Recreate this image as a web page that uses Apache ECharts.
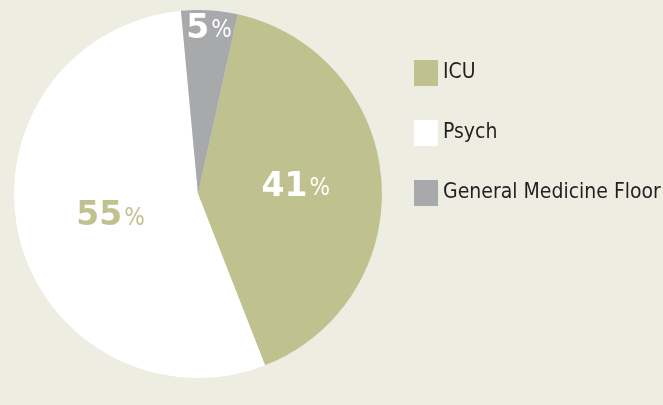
<!DOCTYPE html>
<html><head><meta charset="utf-8">
<script src="https://cdn.jsdelivr.net/npm/echarts@6/dist/echarts.min.js"></script>
<style>html,body{margin:0;padding:0;background:#eeede1;}#c{width:663px;height:405px;}</style>
</head><body><div id="c"></div>
<script>
var categories = ["ICU", "Psych", "General Medicine Floor"];
var values = [41, 55, 5];
var colors = ["#bfc18f", "#ffffff", "#a8a9ab"];
var labelColors = ["#ffffff", "#bfc18f", "#ffffff"];
var labelShift = [[3, 1], [5, 1], [5, -70]];

var chart = echarts.init(document.getElementById('c'));
chart.setOption({
  backgroundColor: '#eeede1',
  animation: false,
  legend: {
    orient: 'vertical', left: 409, top: 55,
    itemWidth: 24, itemHeight: 26, itemGap: 34,
    icon: 'rect',
    data: categories,
    textStyle: { fontFamily: 'DejaVu Sans Condensed', fontSize: 21, color: '#231f20' }
  },
  series: [{
    type: 'pie',
    center: [198, 194],
    radius: [0, 184],
    startAngle: 77.5,
    clockwise: true,
    silent: true,
    label: {
      show: true, position: 'inside',
      formatter: function (p) { return '{n|' + p.value + '}{p|%}'; }
    },
    labelLine: { show: false },
    labelLayout: function (p) { return { dx: labelShift[p.dataIndex][0], dy: labelShift[p.dataIndex][1] }; },
    data: categories.map(function (c, i) {
      return {
        name: c, value: values[i],
        itemStyle: { color: colors[i] },
        label: {
          rich: {
            n: { fontFamily: 'DejaVu Sans', fontWeight: 'bold', fontSize: 33, color: labelColors[i] },
            p: { fontFamily: 'DejaVu Sans Condensed', fontSize: 24, color: labelColors[i], padding: [3, 0, 0, 2] }
          }
        }
      };
    })
  }]
});
</script></body></html>
